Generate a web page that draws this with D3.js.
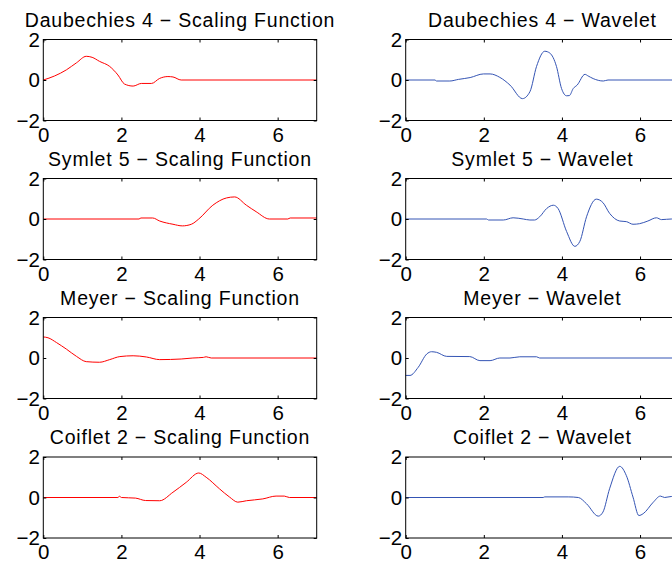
<!DOCTYPE html>
<html>
<head>
<meta charset="utf-8">
<script src="https://cdn.jsdelivr.net/npm/d3@7"></script>
<style>
  body { margin: 0; background: #fff; }
  svg { display: block; }
  text { font-family: "Liberation Sans", Arial, sans-serif; fill: #000; }
</style>
</head>
<body>
<main></main>
<script>
// panel titles, row by row
var titles = [
  ['Daubechies 4 \u2212 Scaling Function', 'Daubechies 4 \u2212 Wavelet'],
  ['Symlet 5 \u2212 Scaling Function', 'Symlet 5 \u2212 Wavelet'],
  ['Meyer \u2212 Scaling Function', 'Meyer \u2212 Wavelet'],
  ['Coiflet 2 \u2212 Scaling Function', 'Coiflet 2 \u2212 Wavelet']
]
var xTicks = [0, 2, 4, 6]
var yTicks = [-2, 0, 2]

// curves as [x, y] pairs
var db4Phi = [[0, 0], [0.29, 0.2], [0.59, 0.5], [0.85, 0.85], [1.1, 1.17], [1.25, 1.12], [1.44, 0.92], [1.7, 0.67], [1.91, 0.25], [2.08, -0.2], [2.3, -0.3], [2.51, -0.17], [2.77, -0.17], [2.98, 0.08], [3.19, 0.17], [3.32, 0.15], [3.53, 0], [7, 0]]
var db4Psi = [[0, 0], [0.75, 0], [0.79, -0.05], [1.13, -0.05], [1.35, 0.03], [1.65, 0.12], [1.99, 0.3], [2.16, 0.3], [2.41, 0.13], [2.67, -0.25], [2.99, -0.92], [3.18, -0.58], [3.35, 0.67], [3.56, 1.42], [3.69, 1.33], [3.86, 0.67], [3.99, -0.42], [4.12, -0.78], [4.19, -0.77], [4.29, -0.42], [4.39, -0.25], [4.59, 0.28], [4.67, 0.2], [4.8, 0.07], [5.06, -0.05], [5.18, 0], [7, 0]]
var sym5Phi = [[0, 0], [2.45, 0], [2.5, 0.05], [2.8, 0.05], [2.98, -0.1], [3.32, -0.26], [3.56, -0.34], [3.79, -0.26], [3.98, 0], [4.34, 0.68], [4.69, 1.04], [4.9, 1.09], [5.2, 0.68], [5.45, 0.36], [5.79, 0], [6.26, 0], [6.32, 0.05], [7, 0.05]]
var sym5Psi = [[0, 0], [2.07, 0], [2.12, -0.05], [2.5, -0.05], [2.75, 0.06], [3.01, 0], [3.18, -0.05], [3.3, -0.05], [3.43, 0.11], [3.61, 0.52], [3.78, 0.68], [3.9, 0.52], [4.12, -0.62], [4.33, -1.35], [4.46, -1.1], [4.63, 0.11], [4.88, 0.98], [5.05, 0.81], [5.22, 0.28], [5.48, -0.1], [5.65, -0.13], [5.82, -0.26], [5.99, -0.23], [6.2, -0.1], [6.42, 0.06], [6.55, -0.03], [6.8, 0], [7, 0]]
var meyPhi = [[0, 1.04], [0.12, 1.0], [0.34, 0.76], [0.59, 0.44], [0.85, 0.08], [1.1, -0.18], [1.44, -0.21], [1.7, -0.08], [1.96, 0.07], [2.3, 0.11], [2.64, 0.05], [2.98, -0.08], [3.53, -0.05], [3.83, 0], [4.1, 0.03], [4.17, 0.06], [4.3, 0], [7, 0]]
var meyPsi = [[0, -0.86], [0.11, -0.86], [0.32, -0.46], [0.54, 0.2], [0.66, 0.31], [0.79, 0.28], [1.05, 0.08], [1.64, 0.07], [1.9, -0.13], [2.16, -0.13], [2.41, 0], [2.67, 0], [2.92, 0.06], [3.35, 0.06], [3.43, 0], [7, 0]]
var coif2Phi = [[0, 0], [1.91, 0], [1.95, 0.06], [2.0, 0], [2.36, -0.03], [2.62, -0.15], [2.98, -0.16], [3.32, 0.26], [3.66, 0.75], [3.98, 1.21], [4.17, 1.0], [4.51, 0.43], [4.77, 0.02], [4.98, -0.23], [5.2, -0.16], [5.62, -0.07], [5.96, 0.07], [6.17, 0.07], [6.3, 0], [7, 0]]
var coif2Psi = [[0, 0], [3.52, 0], [3.56, 0.03], [4.16, 0.03], [4.42, 0], [4.63, -0.31], [4.93, -0.92], [5.05, -0.72], [5.22, 0.43], [5.48, 1.54], [5.65, 1.08], [5.82, 0.02], [5.97, -0.89], [6.08, -0.8], [6.34, -0.23], [6.52, 0.07], [6.63, 0], [6.8, 0.05], [7, 0.03]]

var curves = [[db4Phi, db4Psi], [sym5Phi, sym5Psi], [meyPhi, meyPsi], [coif2Phi, coif2Psi]]
var colors = ['#ff0000', '#3454b4']

var W = 672
var H = 566
var colLeft = [43.3, 405.7]
var axW = 273.4
var rowTop = [39.5, 178.5, 317.5, 457]
var axH = 81
var titleSize = 19.5
var tickSize = 20.5

const svg = d3.select('main')
  .append('svg')
  .attr('width', W)
  .attr('height', H)

const fmt = d => d < 0 ? '\u2212' + (-d) : String(d)

for (let r = 0; r < 4; r++) {
  for (let c = 0; c < 2; c++) {
    const x = d3.scaleLinear().domain([0, 7]).range([colLeft[c], colLeft[c] + axW])
    const y = d3.scaleLinear().domain([-2, 2]).range([rowTop[r] + axH, rowTop[r]])
    const g = svg.append('g')

    // data line
    const line = d3.line()
      .x(d => x(d[0]))
      .y(d => y(d[1]))
      .curve(d3.curveMonotoneX)
    g.append('path')
      .datum(curves[r][c])
      .attr('d', line)
      .style('fill', 'none')
      .style('stroke', colors[c])
      .style('stroke-width', '1px')

    // bottom / left axes with inner ticks
    g.append('g')
      .attr('transform', 'translate(0,' + y(-2) + ')')
      .call(d3.axisBottom(x).tickValues(xTicks).tickSizeInner(-3).tickSizeOuter(0).tickPadding(6.5).tickFormat(fmt))
    g.append('g')
      .attr('transform', 'translate(' + x(0) + ',0)')
      .call(d3.axisLeft(y).tickValues(yTicks).tickSizeInner(-3).tickSizeOuter(0).tickPadding(3.5).tickFormat(fmt))
    // top / right ticks
    g.append('g')
      .attr('transform', 'translate(0,' + y(2) + ')')
      .call(d3.axisTop(x).tickValues(xTicks).tickSizeInner(-3).tickSizeOuter(0).tickFormat(''))
    g.append('g')
      .attr('transform', 'translate(' + x(7) + ',0)')
      .call(d3.axisRight(y).tickValues(yTicks).tickSizeInner(-3).tickSizeOuter(0).tickFormat(''))

    g.selectAll('.domain').remove()
    g.selectAll('.tick line').style('stroke', '#000')
    g.selectAll('.tick text')
      .attr('font-size', tickSize)
      .style('font-size', tickSize + 'px')
      .style('fill', '#000')

    // frame
    g.append('rect')
      .attr('x', x(0))
      .attr('y', y(2))
      .attr('width', x(7) - x(0))
      .attr('height', y(-2) - y(2))
      .style('fill', 'none')
      .style('stroke', '#000')
      .style('stroke-width', '1px')

    g.append('text')
      .attr('x', (x(0) + x(7)) / 2)
      .attr('y', y(2) - 13)
      .attr('text-anchor', 'middle')
      .style('font-size', titleSize + 'px')
      .style('letter-spacing', '0.8px')
      .text(titles[r][c])
  }
}
</script>
</body>
</html>
